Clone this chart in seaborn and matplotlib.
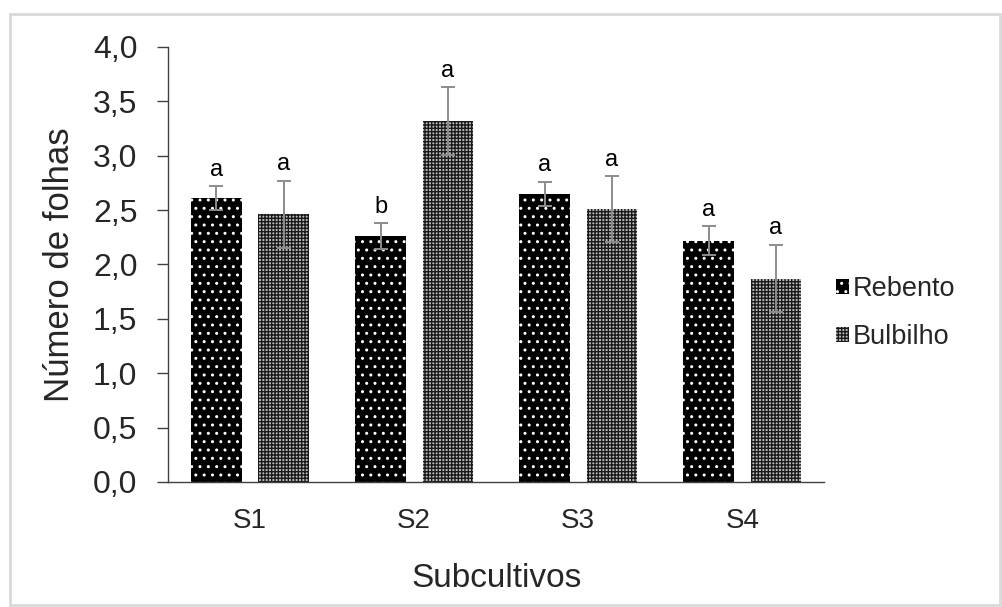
import matplotlib
matplotlib.use("Agg")
import matplotlib.pyplot as plt
import seaborn as sns
import pandas as pd
from matplotlib.patches import Rectangle, Patch
from matplotlib.ticker import FuncFormatter

# Número médio de folhas por subcultivo e tipo de explante
subcultivos = ["S1", "S2", "S3", "S4"]
tipos = ["Rebento", "Bulbilho"]
rebento = [2.61, 2.26, 2.65, 2.22]
bulbilho = [2.46, 3.32, 2.51, 1.87]
erro_rebento = [0.11, 0.12, 0.11, 0.13]
erro_bulbilho = [0.31, 0.31, 0.30, 0.31]
letras_rebento = ["a", "b", "a", "a"]
letras_bulbilho = ["a", "a", "a", "a"]

df = pd.DataFrame({
    "Subcultivos": subcultivos * 2,
    "Tipo": ["Rebento"] * 4 + ["Bulbilho"] * 4,
    "Folhas": rebento + bulbilho,
})

sns.set_theme(style="white")
plt.rcParams["font.family"] = ["Liberation Sans", "DejaVu Sans"]
plt.rcParams["hatch.linewidth"] = 1.0

fig = plt.figure(figsize=(10.02, 6.07), dpi=100)
ax = fig.add_axes([0.1677, 0.206, 0.655, 0.7166])

sns.barplot(data=df, x="Subcultivos", y="Folhas", hue="Tipo", hue_order=tipos,
            order=subcultivos, errorbar=None, width=0.82, gap=0.25,
            palette=["black", "white"], ax=ax, legend=False)

# Padrões das barras: pontos brancos sobre preto; malha escura sobre cinza claro
estilos = {
    "Rebento": dict(facecolor="black", edgecolor="white", hatch=".."),
    "Bulbilho": dict(facecolor="#bcbcbc", edgecolor="#1a1a1a", hatch="+++++"),
}
for container, tipo in zip(ax.containers, tipos):
    for bar in container:
        bar.set_facecolor(estilos[tipo]["facecolor"])
        bar.set_edgecolor(estilos[tipo]["edgecolor"])
        bar.set_hatch(estilos[tipo]["hatch"])
        bar.set_linewidth(0)

valores = {"Rebento": (rebento, erro_rebento, letras_rebento),
           "Bulbilho": (bulbilho, erro_bulbilho, letras_bulbilho)}
for container, tipo in zip(ax.containers, tipos):
    vals, errs, letras = valores[tipo]
    xs = [b.get_x() + b.get_width() / 2 for b in container]
    ax.errorbar(xs, vals, yerr=errs, fmt="none", ecolor="#8c8c8c",
                elinewidth=1.4, capsize=5, capthick=1.4, zorder=5)
    for x, v, e, l in zip(xs, vals, errs, letras):
        ax.text(x, v + e + 0.05, l, ha="center", va="bottom", fontsize=17,
                color="black")

ax.set_ylim(0, 4)
ax.set_xlim(-0.5, 3.5)
ax.set_yticks([i * 0.5 for i in range(9)])
ax.yaxis.set_major_formatter(FuncFormatter(lambda v, p: f"{v:.1f}".replace(".", ",")))
ax.tick_params(axis="y", which="major", direction="out", length=8, width=1,
               color="#404040", labelsize=23, pad=14, left=True)
ax.tick_params(axis="x", length=0, labelsize=20, pad=19)
for s in ["top", "right"]:
    ax.spines[s].set_visible(False)
for s in ["left", "bottom"]:
    ax.spines[s].set_color("#404040")
    ax.spines[s].set_linewidth(1)

ax.set_xlabel("Subcultivos", fontsize=24, va="center")
ax.xaxis.set_label_coords(0.5, -0.221)
ax.set_ylabel("Número de folhas", fontsize=25, labelpad=12)

handles = [Patch(facecolor=estilos[t]["facecolor"], edgecolor=estilos[t]["edgecolor"],
                 hatch=estilos[t]["hatch"], linewidth=0, label=t) for t in tipos]
ax.legend(handles=handles, loc="center left", bbox_to_anchor=(0.98, 0.388),
          frameon=False, fontsize=19.5, handlelength=0.5, handleheight=0.5,
          handletextpad=0.15, labelspacing=0.8)

# Moldura cinza-clara em volta da figura
fig.patches.append(Rectangle((0.010, 0.004), 0.988, 0.973, transform=fig.transFigure,
                             fill=False, edgecolor="#d9d9d9", linewidth=2))

fig.savefig("out.png", dpi=100)
